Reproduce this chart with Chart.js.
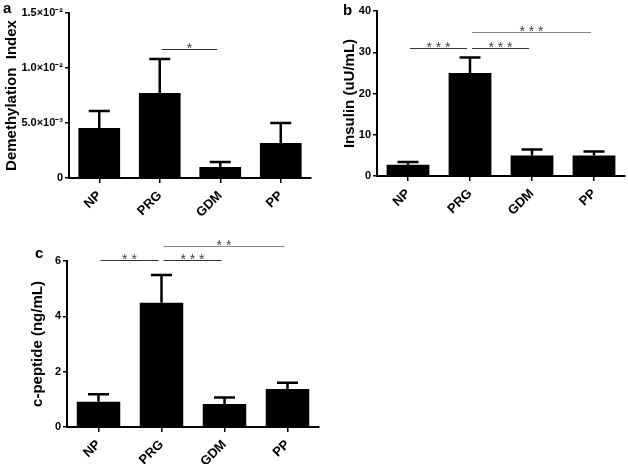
<!DOCTYPE html>
<html>
<head>
  <meta charset="utf-8">
  <title>Demethylation, insulin and c-peptide</title>
  <style>
    body { margin: 0; background: #fff; }
    .panel { position: absolute; }
  </style>
</head>
<body>
  <div class="panel" style="left:0; top:0;"><canvas id="chart-a" width="314" height="225"></canvas></div>
  <div class="panel" style="left:314px; top:0;"><canvas id="chart-b" width="314" height="225"></canvas></div>
  <div class="panel" style="left:0; top:225px;"><canvas id="chart-c" width="320" height="239"></canvas></div>

  <script src="https://cdn.jsdelivr.net/npm/chart.js"></script>
  <script>
    const groups = ['NP', 'PRG', 'GDM', 'PP'];

    // a: demethylation index (mean, SEM)
    const demethMean = [0.00455, 0.00773, 0.00100, 0.00318];
    const demethSem = [0.00154, 0.00309, 0.00045, 0.00182];
    const demethTicks = [0, 0.005, 0.01, 0.015];
    const demethTickLabels = ['0', '5.0×10⁻³', '1.0×10⁻²', '1.5×10⁻²'];

    // b: insulin
    const insulinMean = [2.75, 25.0, 4.95, 5.0];
    const insulinSem = [0.65, 3.7, 1.5, 0.95];
    const insulinTicks = [0, 10, 20, 30, 40];

    // c: c-peptide
    const cpepMean = [0.91, 4.49, 0.83, 1.37];
    const cpepSem = [0.27, 1.0, 0.24, 0.23];
    const cpepTicks = [0, 2, 4, 6];

    // significance: [group from, group to, level in axis units, stars]
    const sigA = [[1, 2, 0.0117, '*']];
    const sigB = [[0, 1, 31.0, '* * *'], [1, 2, 31.0, '* * *'], [1, 3, 34.8, '* * *']];
    const sigC = [[0, 1, 6.05, '* *'], [1, 2, 6.05, '* * *'], [1, 3, 6.55, '* *']];

    const FONT = '"Liberation Sans", Arial, sans-serif';

    // error bars, significance lines and the panel letter
    function extras(letter, lx, ly, sem, sig) {
      return {
        id: 'extras',
        afterDatasetsDraw(chart) {
          const ctx = chart.ctx;
          const xs = chart.scales.x, ys = chart.scales.y;
          const vals = chart.data.datasets[0].data;
          ctx.save();
          ctx.strokeStyle = '#000';
          ctx.lineWidth = 2.5;
          chart.getDatasetMeta(0).data.forEach((bar, i) => {
            const top = ys.getPixelForValue(vals[i] + sem[i]);
            ctx.beginPath();
            ctx.moveTo(bar.x, bar.y);
            ctx.lineTo(bar.x, top);
            ctx.moveTo(bar.x - 10.5, top);
            ctx.lineTo(bar.x + 10.5, top);
            ctx.stroke();
          });

          sig.forEach(([i, j, level, stars]) => {
            const py = Math.round(ys.getPixelForValue(level)) + 0.5;
            const x0 = xs.getPixelForValue(i) + 2;
            const x1 = xs.getPixelForValue(j) - 3;
            ctx.strokeStyle = j - i > 1 ? '#888' : '#333';
            ctx.lineWidth = 1.2;
            ctx.beginPath();
            ctx.moveTo(x0, py);
            ctx.lineTo(x1, py);
            ctx.stroke();
            ctx.fillStyle = '#444';
            ctx.font = '14px ' + FONT;
            ctx.textAlign = 'center';
            ctx.textBaseline = 'alphabetic';
            ctx.fillText(stars, (x0 + x1) / 2, py + 3);
          });

          ctx.fillStyle = '#000';
          ctx.font = 'bold 15px ' + FONT;
          ctx.textAlign = 'left';
          ctx.fillText(letter, lx, ly);
          ctx.restore();
        }
      };
    }

    function barChart(id, mean, ticks, tickLabels, yTitle, box, plugin) {
      const ctx = document.getElementById(id).getContext('2d');
      return new Chart(ctx, {
        type: 'bar',
        data: {
          labels: groups,
          datasets: [{
            data: mean,
            backgroundColor: '#000',
            borderWidth: 0,
            barPercentage: 0.69,
            categoryPercentage: 1
          }]
        },
        options: {
          responsive: false,
          animation: false,
          layout: { padding: { top: box.top, right: box.right, left: 0, bottom: 0 } },
          plugins: { legend: { display: false }, tooltip: { enabled: false } },
          scales: {
            x: {
              grid: { display: true, drawOnChartArea: false, offset: false, tickLength: 5, color: '#000', lineWidth: 1.5 },
              border: { display: true, color: '#000', width: 2 },
              ticks: {
                color: '#000',
                font: { family: FONT, size: 13, weight: 'bold' },
                minRotation: 45,
                maxRotation: 45,
                padding: 5
              },
              afterFit: s => { s.height = box.xHeight; }
            },
            y: {
              min: 0,
              max: ticks[ticks.length - 1],
              afterBuildTicks: s => { s.ticks = ticks.map(v => ({ value: v })); },
              grid: { display: true, drawOnChartArea: false, tickLength: 4, color: '#000', lineWidth: 1.5 },
              border: { display: true, color: '#000', width: 2 },
              ticks: {
                color: '#000',
                padding: 2,
                font: { family: FONT, size: 11, weight: 'bold' },
                callback: v => tickLabels[ticks.indexOf(v)]
              },
              title: {
                display: true,
                text: yTitle,
                color: '#000',
                font: { family: FONT, size: 15, weight: 'bold' },
                padding: { top: box.titlePad, bottom: 0 }
              },
              afterFit: s => { s.width = box.yWidth; }
            }
          }
        },
        plugins: [plugin]
      });
    }

    barChart('chart-a', demethMean, demethTicks, demethTickLabels, 'Demethylation  Index',
      { top: 13, right: 3, xHeight: 47, yWidth: 69, titlePad: 3 },
      extras('a', 3, 13, demethSem, sigA));

    barChart('chart-b', insulinMean, insulinTicks, insulinTicks.map(String), 'Insulin (uU/mL)',
      { top: 11, right: 3, xHeight: 49, yWidth: 63, titlePad: 27 },
      extras('b', 29, 15, insulinSem, sigB));

    barChart('chart-c', cpepMean, cpepTicks, cpepTicks.map(String), 'c-peptide (ng/mL)',
      { top: 36, right: 1, xHeight: 37, yWidth: 67, titlePad: 29 },
      extras('c', 35, 33, cpepSem, sigC));
  </script>
</body>
</html>
